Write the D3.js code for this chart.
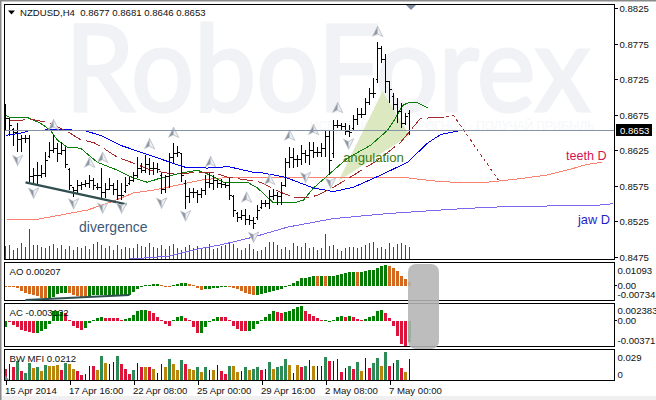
<!DOCTYPE html>
<html><head><meta charset="utf-8">
<script src="https://cdnjs.cloudflare.com/ajax/libs/d3/7.8.5/d3.min.js"></script>
<style>
html,body{margin:0;padding:0;background:#fff;overflow:hidden}
svg{display:block}
text{font-family:"Liberation Sans",Arial,sans-serif;font-size:9.6px;fill:#111}
</style></head><body><div id="c"></div>
<script>
// Prices are in pips (price x 10000), bar order left to right
const highs=[8690,8671,8656,8663,8646,8647,8647,8600,8609,8604,
8622,8636,8646,8635,8636,8629,8600,8574,8583,8581,
8583,8590,8586,8579,8600,8579,8586,8579,8583,8579,
8587,8587,8594,8615,8607,8618,8614,8608,8607,8593,
8590,8621,8635,8631,8621,8583,8572,8572,8569,8572,
8590,8593,8590,8583,8584,8580,8586,8562,8538,8541,
8543,8534,8531,8548,8555,8555,8569,8570,8566,8580,
8614,8629,8628,8618,8632,8625,8636,8636,8629,8635,
8653,8653,8667,8667,8664,8663,8660,8674,8685,8684,
8698,8712,8727,8777,8772,8761,8723,8705,8698,8691,
8678,8681];
const lows=[8653,8645,8631,8622,8622,8635,8580,8579,8577,8586,
8587,8614,8621,8608,8618,8600,8569,8560,8565,8569,
8573,8572,8569,8569,8555,8558,8569,8562,8555,8555,
8565,8576,8580,8586,8593,8593,8590,8590,8593,8563,
8565,8572,8607,8615,8580,8543,8551,8558,8551,8558,
8562,8572,8569,8572,8572,8572,8555,8531,8524,8527,
8520,8520,8515,8527,8543,8545,8543,8555,8548,8548,
8574,8600,8600,8601,8604,8607,8604,8614,8615,8615,
8615,8590,8614,8656,8653,8646,8643,8653,8660,8671,
8674,8688,8699,8720,8748,8705,8692,8681,8664,8656,
8660,8646];
const closes=[8670,8660,8650,8640,8641,8642,8588,8590,8590,8593,
8610,8625,8628,8620,8625,8605,8575,8568,8575,8577,
8578,8582,8575,8572,8565,8570,8575,8570,8562,8562,
8575,8582,8590,8600,8597,8605,8600,8600,8598,8570,
8588,8615,8620,8622,8590,8560,8565,8565,8563,8568,
8580,8578,8582,8578,8577,8575,8562,8540,8530,8533,
8528,8527,8522,8540,8550,8550,8560,8562,8560,8575,
8608,8615,8612,8612,8620,8618,8625,8622,8622,8628,
8645,8610,8660,8660,8658,8652,8650,8668,8675,8675,
8692,8705,8705,8768,8752,8722,8710,8690,8680,8662,
8672,8653];
const opens=[8685,8670,8654,8650,8640,8641,8642,8588,8590,8590,
8593,8616,8625,8628,8620,8625,8598,8572,8568,8575,
8577,8578,8582,8572,8572,8565,8570,8575,8570,8562,
8567,8578,8582,8590,8600,8597,8605,8600,8600,8590,
8570,8588,8615,8620,8620,8578,8560,8565,8565,8563,
8568,8580,8578,8582,8578,8577,8575,8560,8536,8530,
8533,8528,8527,8530,8545,8550,8550,8560,8562,8560,
8575,8608,8615,8612,8612,8620,8618,8625,8622,8622,
8628,8645,8620,8660,8660,8658,8652,8655,8668,8675,
8675,8692,8705,8724,8768,8752,8722,8700,8690,8680,
8662,8677];
const volumes=[14,15,10,12,17,13,31,15,15,13,
12,14,16,12,15,11,14,10,13,12,
14,11,16,18,15,12,14,10,15,11,
13,12,12,16,14,13,17,13,12,15,
11,14,16,12,10,13,15,12,14,12,
13,16,11,12,14,15,17,16,12,10,
12,16,11,9,10,13,18,18,15,11,
13,10,17,14,13,17,12,13,10,12,
26,14,15,11,9,12,13,13,12,13,
15,17,18,12,13,11,17,13,16,17,
15,13];
// Indicator lines: bar index + price in pips
const lipsBars=[0,1.25,5.5,8.75,11.25,13,15.5,18.75,23,28,32,35.5,38.75,43.75,48,51.25,54.5,60.5,63,67,72,74.5,77,81.25,85.5,91.25,95.5,97.5,99.25,100.75,103,105.75];
const lipsVals=[8674,8671,8671,8663,8653,8639,8629,8628,8608,8597,8586,8580,8586,8593,8597,8590,8580,8580,8572,8551,8551,8555,8572,8593,8614,8632,8653,8670,8688,8692,8692,8684];
const teethBars=[1.25,7,10.5,15,18.75,22,24.5,28,32,36.25,40.5,45.5,49.5,52,55.5,59.5,63.75,68.75,72,76.25,78,82,87,93,98.75,101.25,103.75,108.75];
const teethVals=[8667,8668,8664,8653,8640,8636,8628,8615,8607,8597,8593,8593,8594,8594,8587,8584,8580,8566,8559,8559,8562,8573,8590,8611,8636,8653,8670,8671];
const jawBars=[0,3.75,6.25,13.75,19.5,23.75,28.75,34.5,41.25,45,50.5,55.75,62,64.5,70,77,82,87,93.75,100.5,105.5,108.75,110.25,114];
const jawVals=[8646,8649,8653,8654,8653,8646,8632,8621,8608,8601,8600,8602,8594,8593,8587,8572,8567,8573,8590,8608,8635,8647,8649,8653];
const forecastBars=[108.75,112,123.25];
const forecastVals=[8671,8674,8583];
const teethDBars=[0.5,8,13.75,20.5,26.25,32,37,43,48.75,53.75,62,70.5,80.5,93.75,99.5,103.75,108.75,112.75,120.25,127,135.25,141,145.25,149];
const teethDVals=[8527,8528,8534,8541,8552,8565,8569,8576,8583,8586,8587,8587,8587,8587,8587,8584,8581,8580,8580,8584,8590,8598,8605,8608];
const jawDBars=[30.75,40.5,48.75,53.75,62,70.5,82,95.5,108.75,114.5,121,128.5,148.5,152];
const jawDVals=[8472,8476,8487,8492,8503,8517,8529,8536,8541,8543,8545,8546,8548,8550];
const divergenceBars=[5,30.25];
const divergenceVals=[8580,8549];
const angleBars=[94.25,101,83.25];
const angleVals=[8708,8646,8582];
const fractalUpBars=[12,21,24.25,36,42,51.25,60.25,66,71,77,83,93];
const fractalUpVals=[8660,8607,8614,8633,8649,8608,8558,8583,8645,8653,8684,8791];
const fractalDownBars=[3,7,17,24.25,29,39,45,62,75,81.25,85.75];
const fractalDownVals=[8612,8566,8551,8545,8545,8552,8534,8504,8588,8580,8635];
// AO, AC in 1e-5; BW MFI in 1e-4
const aoValues=[17,17,-52,-104,-261,-348,-400,-470,-522,-626,
-626,-609,-557,-435,-383,-348,-383,-487,-522,-574,
-626,-522,-487,-487,-487,-487,-487,-487,-487,-487,
-470,-470,-313,-174,-52,35,52,104,104,52,
17,-17,52,87,139,157,122,52,-87,-226,
-139,-139,-104,-87,-52,-35,-52,-87,-174,-261,
-348,-435,-487,-487,-435,-383,-313,-261,-226,-174,
-52,52,139,244,400,435,487,522,522,522,
522,522,522,557,626,661,731,731,731,731,
783,835,835,957,1044,1093,1044,957,783,522,
383,207];
const aoColors="oooooooooo"+"ogggggoooo"+"oggggggggg"+"gggggggggo"+"ooggggoooo"+"ggggggoooo"+"oooggggggg"+"ggggggggog"+"ogggggggog"+"ggggggoooo"+"oo";
const acValues=[-89,-15,-59,-99,-138,-158,-173,-177,-182,-158,
-123,-49,148,148,133,108,5,-74,-108,-133,
-108,-39,15,35,49,39,39,39,39,15,
30,39,89,138,158,158,138,108,49,5,
-49,-74,5,49,74,39,15,-99,-182,-182,
-89,-5,25,49,59,49,5,-74,-123,-158,
-158,-158,-123,-49,15,59,99,138,123,108,
123,148,173,197,212,148,99,74,39,5,
10,2,10,49,69,59,64,49,25,15,
30,59,74,138,163,108,39,-84,-222,-345,
-370,-313];
const acColors="grrrrrrrgg"+"gggggrrrrr"+"gggggrrrrr"+"ggggggrrrr"+"rrgggrrrrg"+"ggggrrrrrr"+"rgggggggrr"+"gggggrrrrr"+"gggggrgrrr"+"gggggrrrrr"+"rg";
const mfiValues=[113,160,130,194,92,68,171,119,136,92,
153,143,147,153,102,171,160,113,92,51,
58,143,143,102,249,171,160,181,242,160,
113,58,102,171,130,130,130,109,68,160,
130,215,164,102,201,164,109,102,136,85,
130,102,102,153,95,58,147,147,78,92,
130,102,109,130,99,109,181,109,130,147,
212,150,68,150,130,143,201,143,143,143,
232,191,191,212,78,119,147,109,181,89,
222,119,171,222,143,283,143,171,201,119,
78,212];
const mfiColors="rbrgrggygy"+"gyyyrgyyrr"+"bbrygybbgr"+"rrgbryrybb"+"ygyygryygy"+"gbybrrgyyb"+"gyggrbgygg"+"gybyrgbybb"+"grbbrbgrgy"+"brggygrbgr"+"yb";
const priceTicks=[8825,8775,8725,8675,8625,8575,8525,8475];
const timeBars=[0,16,32,48,64,80,96];
const timeLabels=["15 Apr 2014","17 Apr 16:00","22 Apr 08:00","25 Apr 00:00","29 Apr 16:00","2 May 08:00","7 May 00:00"];
const aoTicks=[1093,0,-734], aoTickLabels=["0.01093","0.00","-0.00734"];
const acTicks=[238.3,0,-371], acTickLabels=["0.002383","0.00","-0.00371"];
const mfiTicks=[290,0], mfiTickLabels=["0.029","0"];

const W=656,H=400,L=4.5,R=614.5;
const svg=d3.select("#c").append("svg").attr("width",W).attr("height",H);
svg.append("rect").attr("width",W).attr("height",H).attr("fill","#fff");
svg.append("rect").attr("y",396).attr("width",W).attr("height",4).attr("fill","#f0f0f0");
svg.append("rect").attr("width",W).attr("height",1.5).attr("fill","#8a8a8a");
svg.append("rect").attr("width",1.5).attr("height",H).attr("fill","#8a8a8a");

const x=d3.scaleLinear().domain([0,101]).range([5.5,409.5]);
const y=d3.scaleLinear().domain([8825,8475]).range([8,257]);
const yVol=d3.scaleLinear().domain([0,40]).range([260,220]);
const yAO=d3.scaleLinear().domain([1249,-781]).range([262,301]);
const yAC=d3.scaleLinear().domain([262,-389]).range([303,347]);
const yMFI=d3.scaleLinear().domain([0,320]).range([380,348.8]);

const defs=svg.append("defs");
defs.append("clipPath").attr("id","main").append("rect").attr("x",L).attr("y",4.5).attr("width",R-L).attr("height",255.5);

// watermark
svg.append("text").attr("x",65).attr("y",111).attr("textLength",525).attr("lengthAdjust","spacingAndGlyphs")
 .style("font-family","Lato").style("font-size","120px").style("fill","#f0f2f6").style("stroke","#f0f2f6").style("stroke-width","3px").text("RoboForex");
svg.append("text").attr("x",310).attr("y",130).attr("textLength",285).attr("lengthAdjust","spacingAndGlyphs")
 .style("font-size","13px").style("fill","#f6f7f9").text("ИСПЫТАЙ СВОЙ ПРОГНОЗ - ПОЛУЧАЙ ПРИБЫЛЬ");

const m=svg.append("g").attr("clip-path","url(#main)");
const pts=(b,v)=>b.map((d,i)=>[x(d),y(v[i])]);
const line=d3.line();
// angulation triangle
m.append("path").attr("d",line(pts(angleBars,angleVals))+"Z").attr("fill","#dce9c0");
// volumes
m.append("g").selectAll("line").data(volumes).join("line")
 .attr("x1",(d,i)=>x(i)).attr("x2",(d,i)=>x(i)).attr("y1",yVol(0)).attr("y2",d=>yVol(d))
 .attr("stroke","#0f6e0f").attr("shape-rendering","crispEdges");
// lines
const draw=(b,v,col,dash)=>m.append("path").attr("d",line(pts(b,v))).attr("fill","none").attr("stroke",col).attr("stroke-width",1).attr("shape-rendering","crispEdges").attr("stroke-dasharray",dash||null);
draw(teethDBars,teethDVals,"#fa8072");
draw(jawDBars,jawDVals,"#7b68ee");
draw(jawBars,jawVals,"#0000e6");
draw(lipsBars,lipsVals,"#0a7d0a");
draw(teethBars,teethVals,"#a52a2a","15 5");
draw(forecastBars,forecastVals,"#a52a2a","3 3");
// price bars
const bars=m.append("g").attr("stroke","#000").attr("shape-rendering","crispEdges");
highs.forEach((h,i)=>{
 const X=x(i);
 bars.append("line").attr("x1",X).attr("x2",X).attr("y1",y(h)).attr("y2",y(lows[i])).attr("stroke-width",1);
 bars.append("line").attr("x1",X-2).attr("x2",X).attr("y1",y(opens[i])).attr("y2",y(opens[i]));
 bars.append("line").attr("x1",X).attr("x2",X+2).attr("y1",y(closes[i])).attr("y2",y(closes[i]));
});
// divergence
m.append("path").attr("d",line(pts(divergenceBars,divergenceVals))).attr("stroke","#2f4f4f").attr("stroke-width",2.4).attr("fill","none");
// fractals
const arrow=(bs,vs,dir)=>{
 const g=m.append("g");
 bs.forEach((b,i)=>{
  const t=g.append("g").attr("transform",`translate(${x(b)},${y(vs[i])}) scale(0.88,${0.88*dir})`);
  t.append("path").attr("d","M0,-7 L-6,5 L0,2 Z").attr("fill","#8f98a3").attr("stroke","#d6d9dd").attr("stroke-width",.7);
  t.append("path").attr("d","M0,-7 L6,5 L0,2 Z").attr("fill","#eceef1").attr("stroke","#b4bac2").attr("stroke-width",.9);
 });
};
arrow(fractalUpBars,fractalUpVals,1);
arrow(fractalDownBars,fractalDownVals,-1);

// current price line
m.append("line").attr("x1",L).attr("x2",R).attr("y1",y(8653)).attr("y2",y(8653)).attr("stroke","#8794a8").attr("shape-rendering","crispEdges");
// chart shift marker
svg.append("path").attr("d",d3.line()([[406,5],[416,5],[411,10]])+"Z").attr("fill","#7f8fa3");

// annotations
const note=(s,X,Y,c,size)=>svg.append("text").attr("x",X).attr("y",Y).style("font-size",size+"px").style("fill",c).text(s);
note("divergence",79,232,"#3c5a78",14);
note("angulation",343,162,"#3c7a12",13.2);
note("teeth D",566,160,"#d3154f",12.6);
note("jaw D",578,224,"#1e1ec4",12.8);

// sub-panel bars
const barW=3;
const ao=svg.append("g").attr("shape-rendering","crispEdges");
ao.selectAll("rect").data(aoValues).join("rect")
 .attr("x",(d,i)=>x(i)-1.5).attr("width",barW)
 .attr("y",d=>Math.min(yAO(d),yAO(0))).attr("height",d=>Math.max(1,Math.abs(yAO(d)-yAO(0))))
 .attr("fill",(d,i)=>aoColors[i]==="g"?"#057a05":"#d2691e");
const ac=svg.append("g").attr("shape-rendering","crispEdges");
ac.selectAll("rect").data(acValues).join("rect")
 .attr("x",(d,i)=>x(i)-1.5).attr("width",barW)
 .attr("y",d=>Math.min(yAC(d),yAC(0))).attr("height",d=>Math.max(1,Math.abs(yAC(d)-yAC(0))))
 .attr("fill",(d,i)=>acColors[i]==="g"?"#008000":"#dc143c");
const mfiCol={g:"#2e8b57",r:"#dc143c",y:"#b8860b",b:"#0000cd"};
const mf=svg.append("g").attr("shape-rendering","crispEdges");
mf.selectAll("rect").data(mfiValues).join("rect")
 .attr("x",(d,i)=>mfiColors[i]==="b"?x(i)-.5:x(i)-1.5).attr("width",(d,i)=>mfiColors[i]==="b"?1:barW)
 .attr("y",d=>yMFI(d)).attr("height",d=>yMFI(0)-yMFI(d))
 .attr("fill",(d,i)=>mfiCol[mfiColors[i]]);
svg.append("path").attr("d",d3.line()([[5,375],[5,380],[9,380]])+"Z").attr("fill","#7b8794");

// frames
[[4.5,259.5],[262.5,300.5],[303.5,346.5],[349.5,380.5]].forEach(([a,b])=>{
 svg.append("rect").attr("x",L).attr("y",a).attr("width",R-L).attr("height",b-a).attr("fill","none").attr("stroke","#000").attr("shape-rendering","crispEdges");
});

// divergence underline on AO panel
const aoDivBars=[5,31], aoDivVals=[-729,-468];
svg.append("path").attr("d",d3.line()(aoDivBars.map((b,i)=>[x(b),yAO(aoDivVals[i])]))).attr("stroke","#2f4f4f").attr("stroke-width",2).attr("fill","none");

// title and labels
svg.append("path").attr("d",d3.line()([[8,10.5],[15,10.5],[11.5,14.5]])+"Z").attr("fill","#000");
const label=(s,X,Y)=>svg.append("text").attr("x",X).attr("y",Y).text(s);
label("NZDUSD,H4  0.8677 0.8681 0.8646 0.8653",20,16).style("white-space","pre");
label("AO 0.00207",9.5,275);
label("AC -0.003132",9.5,316);
label("BW MFI 0.0212",9.5,362);

// axes
const styleAxis=(g,off)=>{
 g.select(".domain").remove();
 g.selectAll("line").attr("stroke","#000").attr("shape-rendering","crispEdges");
 g.selectAll("text").style("font-size","9.6px").attr("dy",(d,i)=>(3.5+(off?off[i]:0))+"px");
};
svg.append("g").attr("transform",`translate(${R},0)`)
 .call(d3.axisRight(y).tickValues(priceTicks).tickSize(3).tickPadding(2).tickFormat(d=>(d/10000).toFixed(4)))
 .call(g=>styleAxis(g));
const sub=(sc,vals,labs,off,pad)=>svg.append("g").attr("transform",`translate(${R},0)`)
 .call(d3.axisRight(sc).tickValues(vals).tickSize(0).tickPadding(pad).tickFormat((d,i)=>labs[i]))
 .call(g=>styleAxis(g,off));
sub(yAO,aoTicks,aoTickLabels,[5,-1,-6],3);
sub(yAC,acTicks,acTickLabels,[5.5,-1,-6],3);
sub(yMFI,mfiTicks,mfiTickLabels,[5,-6],3);
svg.append("line").attr("x1",R).attr("x2",R+2).attr("y1",yAO(0)).attr("y2",yAO(0)).attr("stroke","#000").attr("shape-rendering","crispEdges");
svg.append("line").attr("x1",R).attr("x2",R+2).attr("y1",yAC(0)).attr("y2",yAC(0)).attr("stroke","#000").attr("shape-rendering","crispEdges");

// current price tag
svg.append("rect").attr("x",616).attr("y",124).attr("width",36).attr("height",12).attr("fill","#000");
svg.append("text").attr("x",620).attr("y",133.5).style("fill","#fff").text("0.8653");

// time axis
svg.append("g").attr("transform","translate(0,380.5)")
 .call(d3.axisBottom(x).tickValues(timeBars).tickSize(4).tickPadding(0).tickFormat((d,i)=>timeLabels[i]))
 .call(g=>{g.select(".domain").remove();
  g.selectAll("line").attr("stroke","#000").attr("shape-rendering","crispEdges");
  g.selectAll("text").attr("text-anchor","start").attr("dx","-1px").attr("y",13).attr("dy",0).style("font-size","9.6px");});

// scrollbar overlay
svg.append("rect").attr("x",408).attr("y",264).attr("width",31).attr("height",85).attr("rx",8).attr("fill","#b4b4b4").attr("fill-opacity",.88);
</script></body></html>
